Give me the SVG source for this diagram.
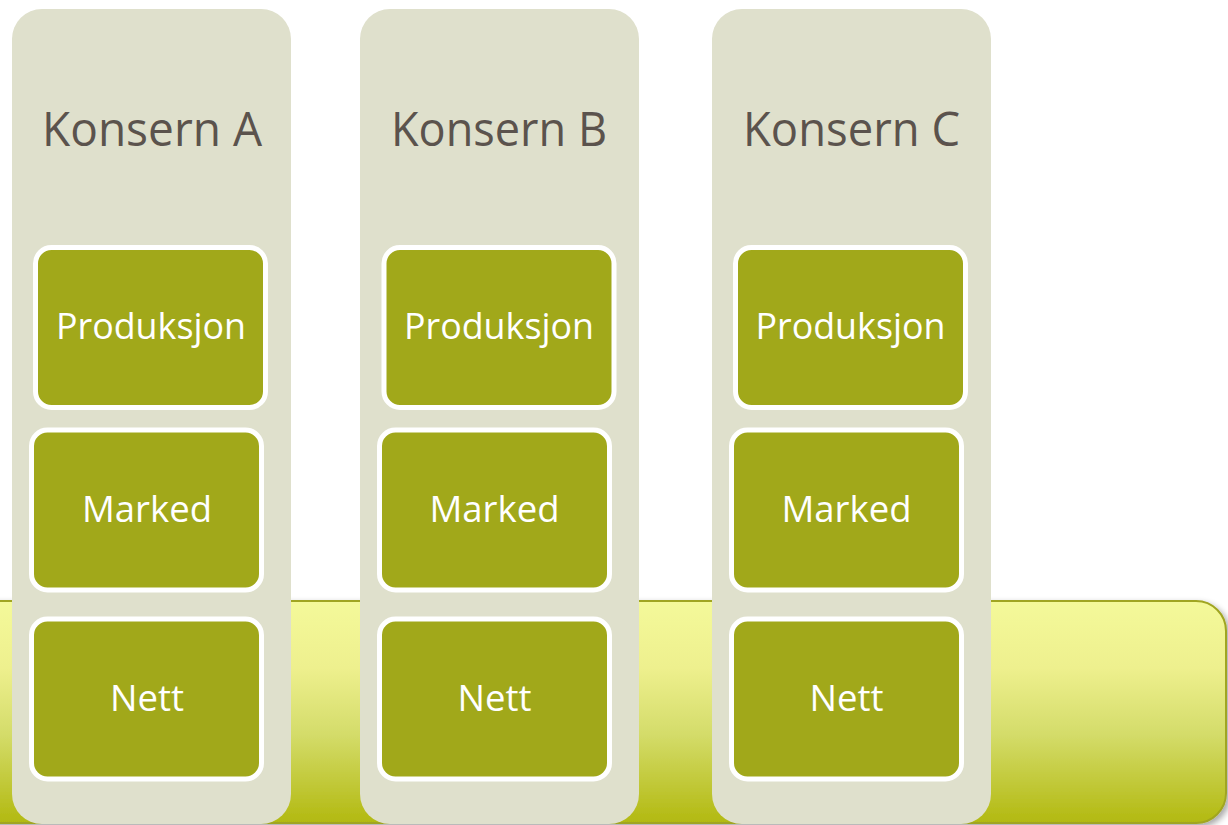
<svg xmlns="http://www.w3.org/2000/svg" width="1228" height="825" viewBox="0 0 1228 825">
<defs>
<linearGradient id="barGrad" x1="0" y1="0" x2="0" y2="1">
<stop offset="0" stop-color="#f4f99a"/>
<stop offset="0.3" stop-color="#eef08e"/>
<stop offset="0.6" stop-color="#d4dc6a"/>
<stop offset="1" stop-color="#b2b910"/>
</linearGradient>
<filter id="shadow" x="-5%" y="-5%" width="110%" height="120%">
<feGaussianBlur in="SourceAlpha" stdDeviation="3"/>
<feOffset dx="3" dy="3" result="b"/>
<feComponentTransfer><feFuncA type="linear" slope="0.35"/></feComponentTransfer>
<feMerge><feMergeNode/><feMergeNode in="SourceGraphic"/></feMerge>
</filter>
</defs>
<style>
.col{fill:#dfe0cc;}
.box{fill:#a1a81a;stroke:#ffffff;stroke-width:5;}
.title{font-family:"Open Sans","Noto Sans",sans-serif;font-size:48px;fill:#5b534d;text-anchor:middle;}
.lbl{font-family:"Open Sans","Noto Sans",sans-serif;font-size:37px;fill:#ffffff;text-anchor:middle;}
</style>
<rect width="1228" height="825" fill="#ffffff"/>
<g id="bar">
<rect x="-40" y="601" width="1266" height="222" rx="30" ry="30" fill="url(#barGrad)" stroke="#a0a520" stroke-width="2" filter="url(#shadow)"/>
</g>
<g id="konsernA">
<rect class="col" x="12" y="9" width="279" height="815" rx="30" ry="30"/>
<text class="title" x="152" y="146" textLength="220" lengthAdjust="spacingAndGlyphs">Konsern A</text>
<g id="A-produksjon"><rect class="box" x="35.5" y="247.5" width="230" height="160" rx="16"/><text class="lbl" x="151" y="339" textLength="190" lengthAdjust="spacingAndGlyphs">Produksjon</text></g>
<g id="A-marked"><rect class="box" x="31.5" y="430" width="230" height="160" rx="16"/><text class="lbl" x="147" y="522" textLength="130" lengthAdjust="spacingAndGlyphs">Marked</text></g>
<g id="A-nett"><rect class="box" x="31.5" y="619" width="230" height="160" rx="16"/><text class="lbl" x="147" y="711" textLength="74" lengthAdjust="spacingAndGlyphs">Nett</text></g>
</g>
<g id="konsernB">
<rect class="col" x="360" y="9" width="279" height="815" rx="30" ry="30"/>
<text class="title" x="499" y="146" textLength="216" lengthAdjust="spacingAndGlyphs">Konsern B</text>
<g id="B-produksjon"><rect class="box" x="384" y="247.5" width="230" height="160" rx="16"/><text class="lbl" x="499" y="339" textLength="190" lengthAdjust="spacingAndGlyphs">Produksjon</text></g>
<g id="B-marked"><rect class="box" x="379.5" y="430" width="230" height="160" rx="16"/><text class="lbl" x="494.5" y="522" textLength="130" lengthAdjust="spacingAndGlyphs">Marked</text></g>
<g id="B-nett"><rect class="box" x="379.5" y="619" width="230" height="160" rx="16"/><text class="lbl" x="494.5" y="711" textLength="74" lengthAdjust="spacingAndGlyphs">Nett</text></g>
</g>
<g id="konsernC">
<rect class="col" x="712" y="9" width="279" height="815" rx="30" ry="30"/>
<text class="title" x="851.5" y="146" textLength="217" lengthAdjust="spacingAndGlyphs">Konsern C</text>
<g id="C-produksjon"><rect class="box" x="735.5" y="247.5" width="230" height="160" rx="16"/><text class="lbl" x="850.5" y="339" textLength="190" lengthAdjust="spacingAndGlyphs">Produksjon</text></g>
<g id="C-marked"><rect class="box" x="731.5" y="430" width="230" height="160" rx="16"/><text class="lbl" x="846.5" y="522" textLength="130" lengthAdjust="spacingAndGlyphs">Marked</text></g>
<g id="C-nett"><rect class="box" x="731.5" y="619" width="230" height="160" rx="16"/><text class="lbl" x="846.5" y="711" textLength="74" lengthAdjust="spacingAndGlyphs">Nett</text></g>
</g>
<g id="connectors"></g>
</svg>
